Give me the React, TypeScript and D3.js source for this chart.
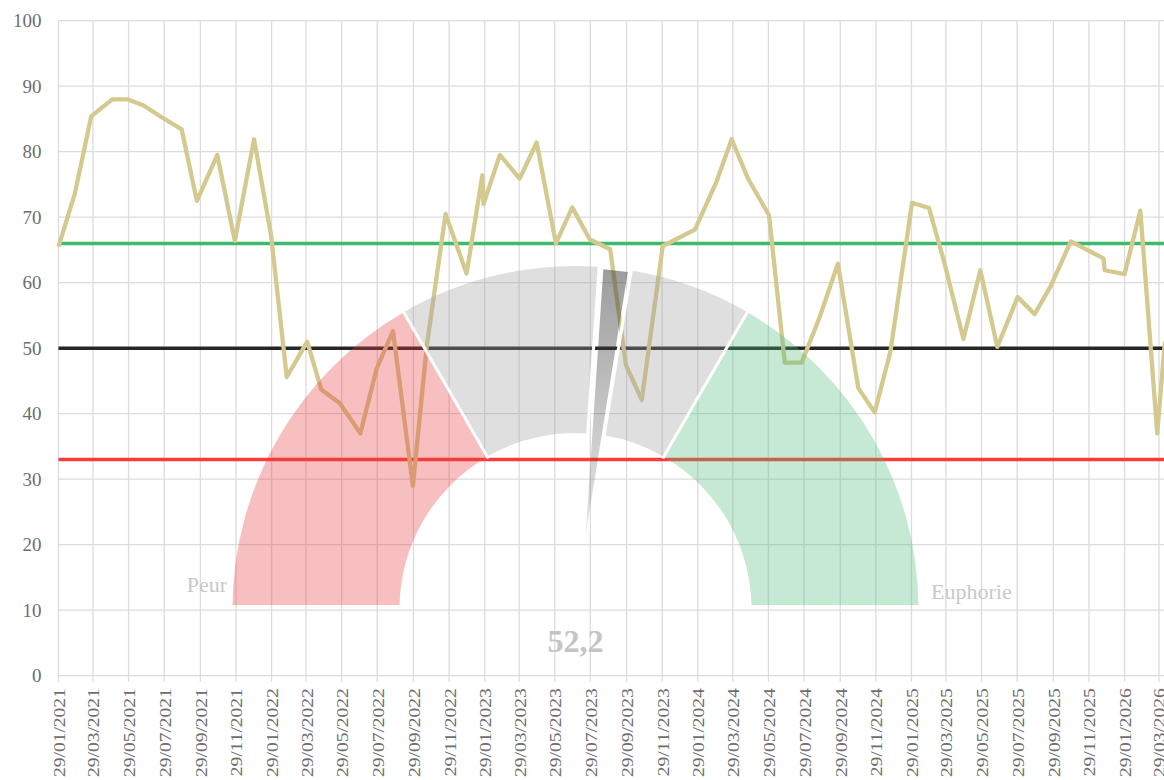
import { useEffect, useRef } from 'react';
import * as d3 from 'd3';

// ── Data ─────────────────────────────────────────────────────────────────────
const DATES = [
  '2021-01-29', '2021-02-26', '2021-03-26', '2021-05-01', '2021-05-27', '2021-06-23',
  '2021-07-24', '2021-08-28', '2021-09-23', '2021-10-28', '2021-11-27', '2021-12-30',
  '2022-01-28', '2022-02-24', '2022-03-31', '2022-04-24', '2022-05-26', '2022-06-30',
  '2022-07-28', '2022-08-25', '2022-09-28', '2022-10-22', '2022-11-23', '2022-12-29',
  '2023-01-25', '2023-01-27', '2023-02-24', '2023-03-30', '2023-04-28', '2023-05-31',
  '2023-06-28', '2023-07-28', '2023-09-01', '2023-09-28', '2023-10-25', '2023-11-30',
  '2024-01-24', '2024-03-01', '2024-03-27', '2024-04-24', '2024-05-30', '2024-06-26',
  '2024-07-25', '2024-08-25', '2024-09-25', '2024-10-30', '2024-11-27', '2024-12-24',
  '2025-01-30', '2025-02-28', '2025-03-25', '2025-04-28', '2025-05-27', '2025-06-25',
  '2025-07-30', '2025-08-28', '2025-09-24', '2025-10-29', '2025-12-24', '2025-12-26',
  '2026-01-29', '2026-02-25', '2026-03-26', '2026-04-08',
];

const VALUES = [
  65.5, 73.6, 85.4, 88.0, 88.0, 87.1,
  85.3, 83.4, 72.5, 79.5, 66.4, 81.9,
  67.3, 45.6, 51.0, 43.7, 41.6, 37.0,
  46.9, 52.6, 29.0, 50.5, 70.5, 61.4,
  76.4, 72.0, 79.5, 75.9, 81.4, 66.0,
  71.5, 66.6, 65.1, 47.4, 42.1, 65.6,
  68.1, 75.4, 81.9, 75.9, 70.3, 47.8,
  47.8, 54.8, 62.9, 43.9, 40.2, 49.5,
  72.2, 71.4, 63.5, 51.4, 61.9, 50.2,
  57.8, 55.2, 59.4, 66.3, 63.7, 61.9,
  61.3, 71.0, 37.0, 51.0,
];

const X_TICKS = [
  '29/01/2021', '29/03/2021', '29/05/2021', '29/07/2021', '29/09/2021', '29/11/2021',
  '29/01/2022', '29/03/2022', '29/05/2022', '29/07/2022', '29/09/2022', '29/11/2022',
  '29/01/2023', '29/03/2023', '29/05/2023', '29/07/2023', '29/09/2023', '29/11/2023',
  '29/01/2024', '29/03/2024', '29/05/2024', '29/07/2024', '29/09/2024', '29/11/2024',
  '29/01/2025', '29/03/2025', '29/05/2025', '29/07/2025', '29/09/2025', '29/11/2025',
  '29/01/2026', '29/03/2026',
];

const Y_TICKS = [0, 10, 20, 30, 40, 50, 60, 70, 80, 90, 100];

const LEVELS = [66, 50, 33];
const LEVEL_COLORS = ['#3dbb6c', '#262626', '#ff3a3a'];

// gauge
const GAUGE_VALUE = 52.2;
const GAUGE_FROM = [0, 33.3, 55.2, 66.7];
const GAUGE_TO = [33.3, 52.2, 66.7, 100];
const GAUGE_COLORS = ['#e63c3c', '#9e9e9e', '#9e9e9e', '#4fbc7a'];
const GAUGE_SEPARATORS = [33.3, 52.2, 55.2, 66.7];
const NEEDLE = [52.6, 54.9];
const GAUGE_LABELS = ['Peur', 'Euphorie'];

const W = 1164, H = 780;
const FONT = '"Liberation Serif", "Times New Roman", serif';

export default function App() {
  const svgRef = useRef<SVGSVGElement>(null);

  useEffect(() => {
    if (!svgRef.current) return;
    const svg = d3.select(svgRef.current);
    svg.selectAll('*').remove();

    const parseIso = d3.timeParse('%Y-%m-%d');
    const parseTick = d3.timeParse('%d/%m/%Y');
    const points = DATES.map((d, i) => ({ date: parseIso(d) as Date, value: VALUES[i] }));
    const tickDates = X_TICKS.map(t => parseTick(t) as Date);

    const x = d3.scaleTime()
      .domain([tickDates[0], tickDates[tickDates.length - 1]])
      .range([58.5, 1159]);
    const y = d3.scaleLinear().domain([0, 100]).range([675.7, 20.7]);
    const xLeft = x.range()[0], xRight = W;

    // Grid
    svg.append('g').selectAll('line').data(Y_TICKS).enter().append('line')
      .attr('x1', xLeft).attr('x2', xRight)
      .attr('y1', d => y(d)).attr('y2', d => y(d))
      .style('stroke', '#dcdcdc').attr('stroke-width', 1.3);

    svg.append('g').selectAll('line').data(tickDates).enter().append('line')
      .attr('x1', d => x(d)).attr('x2', d => x(d))
      .attr('y1', y(100)).attr('y2', y(0) + 6)
      .style('stroke', '#dcdcdc').attr('stroke-width', 1.3);

    // Y axis labels
    svg.append('g').attr('transform', `translate(${xLeft},0)`)
      .call(d3.axisLeft(y).tickValues(Y_TICKS).tickSize(0).tickPadding(17))
      .call(ax => ax.select('.domain').remove())
      .call(ax => ax.selectAll('text')
        .style('fill', '#6e6e6e').style('font-size', '19px').style('font-family', FONT));

    // X axis labels
    svg.append('g').attr('transform', `translate(0,${y(0)})`)
      .call(d3.axisBottom(x).tickValues(tickDates).tickSize(0)
        .tickFormat(d => d3.timeFormat('%d/%m/%Y')(d as Date)))
      .call(ax => ax.select('.domain').remove())
      .call(ax => ax.selectAll('text')
        .attr('x', 0).attr('y', 0).attr('dy', '0.34em')
        .attr('text-anchor', 'end')
        .attr('transform', 'translate(0,12.5) rotate(-90) scale(1,0.9)')
        .style('fill', '#6e6e6e').style('font-size', '19.5px').style('font-family', FONT));

    // Level lines
    svg.append('g').selectAll('line').data(LEVELS).enter().append('line')
      .attr('x1', xLeft).attr('x2', xRight)
      .attr('y1', d => y(d)).attr('y2', d => y(d))
      .style('stroke', (d, i) => LEVEL_COLORS[i]).attr('stroke-width', 3.5);

    // Series
    const line = d3.line<{ date: Date; value: number }>()
      .x(d => x(d.date)).y(d => y(d.value));
    svg.append('path').datum(points)
      .attr('d', line)
      .attr('fill', 'none')
      .style('stroke', '#d4c98e').attr('stroke-width', 4.3)
      .attr('stroke-linejoin', 'round');

    // ── Gauge overlay ─────────────────────────────────────────────────────────
    const cx = 575.5, cy = 609, R = 343, r = 176;
    const angle = d3.scaleLinear().domain([0, 100]).range([-Math.PI / 2, Math.PI / 2]);
    const polar = (v: number, rad: number): [number, number] =>
      [cx + rad * Math.sin(angle(v)), cy - rad * Math.cos(angle(v))];

    const defs = svg.append('defs');
    defs.append('clipPath').attr('id', 'gaugeClip')
      .append('rect').attr('x', 0).attr('y', 0).attr('width', W).attr('height', 605);
    const grad = defs.append('linearGradient').attr('id', 'needleGrad')
      .attr('x1', '0%').attr('y1', '0%').attr('x2', '0%').attr('y2', '100%');
    grad.append('stop').attr('offset', '0%').attr('stop-color', '#3a3a3a').attr('stop-opacity', 0.5);
    grad.append('stop').attr('offset', '100%').attr('stop-color', '#3a3a3a').attr('stop-opacity', 0.12);

    const gauge = svg.append('g').attr('clip-path', 'url(#gaugeClip)');
    const arc = d3.arc<number>()
      .innerRadius(r).outerRadius(R)
      .startAngle((d, i) => angle(GAUGE_FROM[i]))
      .endAngle((d, i) => angle(GAUGE_TO[i]));

    gauge.append('g').attr('transform', `translate(${cx},${cy})`)
      .selectAll('path').data(GAUGE_FROM).enter().append('path')
      .attr('d', (d, i) => arc(d, i) as string)
      .attr('fill', (d, i) => GAUGE_COLORS[i])
      .attr('fill-opacity', 0.33);

    gauge.selectAll('line.sep').data(GAUGE_SEPARATORS).enter().append('line')
      .attr('class', 'sep')
      .attr('x1', d => polar(d, r - 2)[0]).attr('y1', d => polar(d, r - 2)[1])
      .attr('x2', d => polar(d, R + 2)[0]).attr('y2', d => polar(d, R + 2)[1])
      .style('stroke', '#ffffff').attr('stroke-width', 3);

    // Needle
    const [a0, a1] = NEEDLE;
    const tip = polar((a0 + a1) / 2 + 0.6, 74);
    const needlePts = [polar(a0, R - 2), polar(a1, R - 2), tip];
    gauge.append('path')
      .attr('d', `M${needlePts.map(p => p.join(',')).join('L')}Z`)
      .attr('fill', 'url(#needleGrad)');

    // Labels
    svg.append('text').attr('x', 227).attr('y', 592)
      .attr('text-anchor', 'end')
      .style('font-family', FONT).style('font-size', '22px').style('fill', '#c9c9c9')
      .text(GAUGE_LABELS[0]);
    svg.append('text').attr('x', 931).attr('y', 599)
      .style('font-family', FONT).style('font-size', '22px').style('fill', '#c9c9c9')
      .text(GAUGE_LABELS[1]);
    svg.append('text').attr('x', cx).attr('y', 652)
      .attr('text-anchor', 'middle')
      .style('font-family', FONT).style('font-size', '32px').style('font-weight', 'bold')
      .style('fill', '#c4c4c4')
      .text(d3.format('.1f')(GAUGE_VALUE).replace('.', ','));
  }, []);

  return (
    <svg ref={svgRef} width={W} height={H}
      style={{ position: 'absolute', left: 0, top: 0, display: 'block', background: '#fff' }} />
  );
}
